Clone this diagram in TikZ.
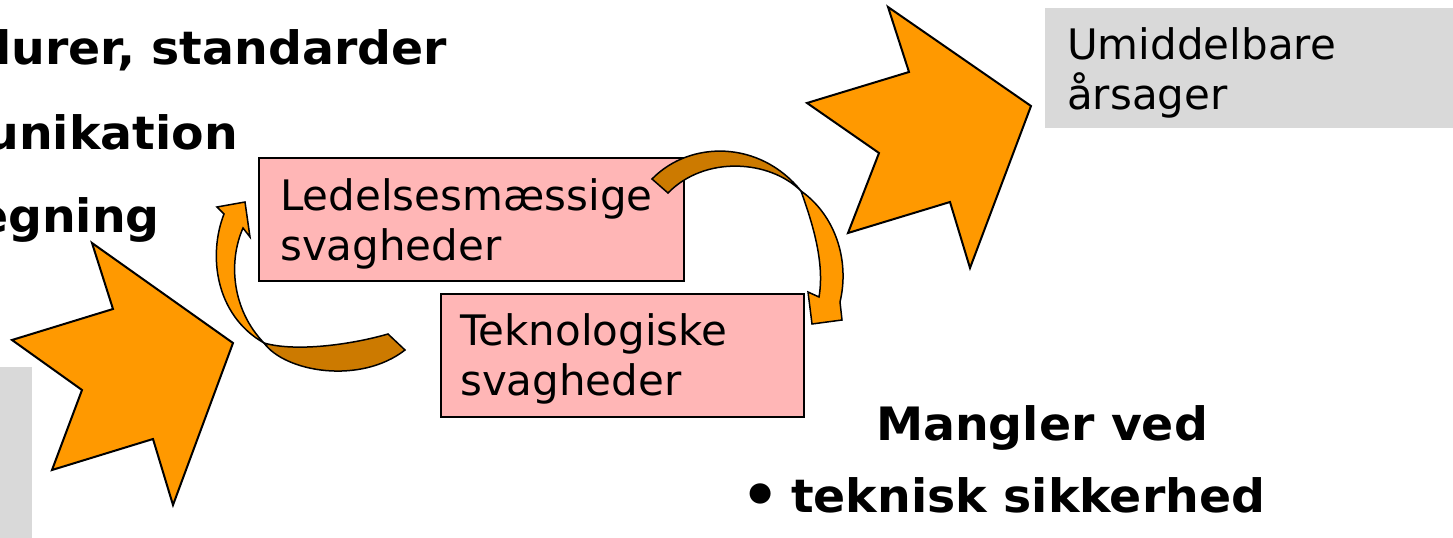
\documentclass[tikz,border=0pt]{standalone}
\usepackage{fontspec}
\setmainfont{DejaVu Sans}
\newfontfamily\widebold{DejaVu Sans}[FakeStretch=1.03]
\definecolor{starorange}{HTML}{FF9900}
\definecolor{ribbondark}{HTML}{CC7A00}
\definecolor{boxpink}{HTML}{FFB6B6}
\definecolor{panelgrey}{HTML}{D9D9D9}
\tikzset{
  star/.style={fill=starorange, draw=black, line width=2bp, line join=miter},
  ribbonlight/.style={fill=starorange, draw=black, line width=1.5bp, line join=miter},
  ribbonback/.style={fill=ribbondark, draw=black, line width=1.5bp, line join=miter},
  pinkbox/.style={rectangle, fill=boxpink, draw=black, line width=2bp, inner sep=0pt, anchor=north west},
  greypanel/.style={rectangle, fill=panelgrey, draw=none, inner sep=0pt, anchor=north west},
  boxtext/.style={anchor=north west, inner sep=0pt, align=left, font=\fontsize{42bp}{50bp}\selectfont},
  boldtext/.style={inner sep=0pt, font=\widebold\fontsize{46bp}{56bp}\selectfont\bfseries}
}
\begin{document}
\begin{tikzpicture}[x=1bp, y=-1bp]
\useasboundingbox (0,0) rectangle (1453,538);
\clip (0,0) rectangle (1453,538);

% grey panels
\node[greypanel, minimum width=420bp, minimum height=120bp] (causes) at (1045,8) {};
\node[greypanel, minimum width=32bp, minimum height=175bp] (leftpanel) at (0,367) {};
\node[boxtext] (causes-t) at (1067,27) {Umiddelbare\\årsager};

% bold list fragments on the left
\node[boldtext, anchor=base east] (l1) at (447,65) {lurer, standarder};
\node[boldtext, anchor=base east] (l2) at (238,150) {unikation};
\node[boldtext, anchor=base east] (l3) at (160,233) {egning};

% notched block arrows
\draw[star] (92,243) -- (113,309) -- (12,340) -- (82,390) -- (52,470)
  -- (153,439) -- (173,505) -- (233,343) -- cycle;
\draw[star] (888,7) -- (909,72) -- (807,103) -- (879,153) -- (848,233)
  -- (950,202) -- (970,268) -- (1031,106) -- cycle;

% weakness boxes
\node[pinkbox, minimum width=425bp, minimum height=123bp] (mgmt) at (258,157) {};
\node[boxtext] (mgmt-t) at (280,178) {Ledelsesmæssige\\svagheder};
\node[pinkbox, minimum width=363bp, minimum height=123bp] (tech) at (440,293) {};
\node[boxtext] (tech-t) at (460,313) {Teknologiske\\svagheder};

% twisted ribbon arrow: technology -> management
\draw[ribbonback] (388,334) .. controls (350,345) and (295,352) .. (264,343)
  .. controls (285,372) and (360,385) .. (405,350) -- cycle;
\draw[ribbonlight] (264,343) .. controls (215,315) and (208,255) .. (224,214)
  -- (217,207) -- (245,202) -- (250,237) -- (243,228)
  .. controls (228,262) and (232,310) .. (264,343) -- cycle;

% twisted ribbon arrow: management -> technology
\draw[ribbonback] (652,179) .. controls (690,140) and (760,140) .. (801,191)
  .. controls (770,160) and (705,155) .. (668,193) -- cycle;
\draw[ribbonlight] (801,191) .. controls (835,215) and (850,260) .. (840,302)
  -- (842,320) -- (812,324) -- (808,292) -- (819,297)
  .. controls (825,262) and (812,222) .. (801,191) -- cycle;

% deficiencies
\node[boldtext, anchor=base] (lack) at (1042,440) {Mangler ved};
\node[boldtext, anchor=base west] (lack-1) at (741,512)
  {\makebox[50bp][l]{\raisebox{-3bp}{\fontsize{58bp}{58bp}\selectfont •}}teknisk sikkerhed};
\end{tikzpicture}
\end{document}
